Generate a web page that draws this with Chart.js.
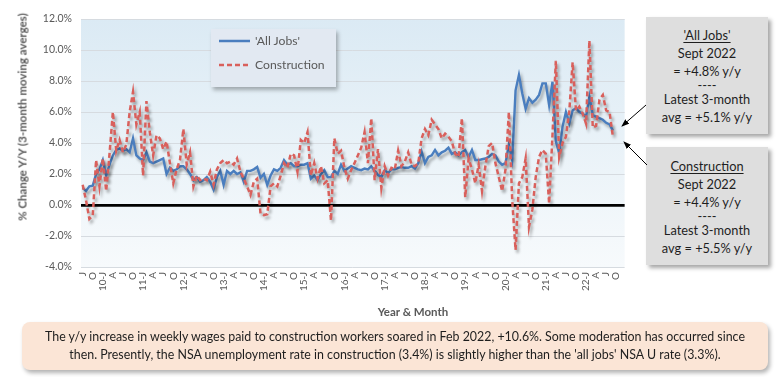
<!DOCTYPE html>
<html><head><meta charset="utf-8">
<script src="https://cdn.jsdelivr.net/npm/chart.js@4.4.0/dist/chart.umd.min.js"></script>
<style>
html,body{margin:0;padding:0;background:#fff;}
body{width:778px;height:377px;position:relative;overflow:hidden;font-family:Lato,'Liberation Sans',sans-serif;color:#595959;}
#wrap{position:absolute;left:0;top:0;width:640px;height:320px;}
.legend{position:absolute;left:211px;top:29px;width:125px;height:58px;background:#e2e9f2;box-shadow:2px 3px 4px rgba(0,0,0,.3);}
.legend span{position:absolute;left:44px;font-size:12.2px;line-height:16px;white-space:nowrap;color:#595959;}
.ann{position:absolute;left:646px;width:122px;background:#dedede;box-shadow:3px 3px 4px rgba(0,0,0,.35);text-align:center;color:#1e1e1e;font-size:12.8px;}
.ann div{line-height:18px;white-space:nowrap;}
.ann .sep{line-height:10px;}
.ann u{text-underline-offset:2px;}
.ytitle{position:absolute;left:22px;top:117px;transform:translate(-50%,-50%) rotate(-90deg);font-weight:bold;font-size:11.5px;white-space:nowrap;color:#595959;}
.xtitle{position:absolute;left:413px;top:311px;transform:translate(-50%,-50%);font-weight:bold;font-size:11.5px;white-space:nowrap;color:#595959;}
.note{position:absolute;left:22px;top:322px;width:746px;height:48px;background:#fbe5d6;border-radius:8px;box-shadow:2px 3px 4px rgba(0,0,0,.3);text-align:center;font-size:12.4px;line-height:18px;color:#1e1e1e;box-sizing:border-box;padding-top:6px;}
svg.arrows{position:absolute;left:0;top:0;pointer-events:none;}
</style></head>
<body>
<div id="wrap"><canvas id="c"></canvas></div>
<div class="ytitle">% Change Y/Y (3-month moving averges)</div>
<div class="xtitle">Year &amp; Month</div>
<div class="legend">
<svg width="125" height="58" style="position:absolute;left:0;top:0">
<line x1="8" y1="12" x2="39" y2="12" stroke="#4a7ebf" stroke-width="2.5"/>
<line x1="8" y1="36" x2="39" y2="36" stroke="#d9605c" stroke-width="2.5" stroke-dasharray="5 3"/>
</svg>
<span style="top:4px">'All Jobs'</span>
<span style="top:28px">Construction</span>
</div>
<div class="ann" style="top:17px;height:117px;padding-top:9px;box-sizing:border-box">
<div><u>'All Jobs'</u></div><div>Sept 2022</div><div>= +4.8% y/y</div><div class="sep">----</div><div>Latest 3-month</div><div>avg = +5.1% y/y</div>
</div>
<div class="ann" style="top:147px;height:118px;padding-top:10px;box-sizing:border-box">
<div><u>Construction</u></div><div>Sept 2022</div><div>= +4.4% y/y</div><div class="sep">----</div><div>Latest 3-month</div><div>avg = +5.5% y/y</div>
</div>
<div class="note">The y/y increase in weekly wages paid to construction workers soared in Feb 2022, +10.6%. Some moderation has occurred since<br>then. Presently, the NSA unemployment rate in construction (3.4%) is slightly higher than the 'all jobs' NSA U rate (3.3%).</div>
<svg class="arrows" width="778" height="377">
<defs><marker id="ah" markerWidth="8" markerHeight="6" refX="7" refY="3" orient="auto" markerUnits="userSpaceOnUse"><path d="M0,0 L8,3 L0,6 z" fill="#000"/></marker></defs>
<line x1="646" y1="105" x2="622" y2="126" stroke="#000" stroke-width="1" marker-end="url(#ah)"/>
<line x1="647" y1="165" x2="624" y2="142" stroke="#000" stroke-width="1" marker-end="url(#ah)"/>
</svg>
<script>
// Monthly categories Jul 2009 - Dec 2022 (tick label shown every 3rd month)
const xLabels = [
 'J','','','O','','',
 '10-J','','','A','','','J','','','O','','',
 '11-J','','','A','','','J','','','O','','',
 '12-J','','','A','','','J','','','O','','',
 '13-J','','','A','','','J','','','O','','',
 '14-J','','','A','','','J','','','O','','',
 '15-J','','','A','','','J','','','O','','',
 '16-J','','','A','','','J','','','O','','',
 '17-J','','','A','','','J','','','O','','',
 '18-J','','','A','','','J','','','O','','',
 '19-J','','','A','','','J','','','O','','',
 '20-J','','','A','','','J','','','O','','',
 '21-J','','','A','','','J','','','O','','',
 '22-J','','','A','','','J','','','O','',''
];
// % change y/y, 3-month moving averages ('All Jobs')
const allJobs = [
 1.1,0.9,1.2,1.25,2.0,2.3,
 2.9,1.9,2.6,3.2,3.55,3.65,3.5,3.6,3.4,4.3,3.2,3.0,
 2.9,3.4,2.8,2.7,2.8,2.9,3.0,2.0,2.4,2.2,2.3,2.5,
 2.5,2.3,2.0,1.6,1.8,1.5,1.6,1.8,1.5,1.0,1.8,2.2,
 1.3,2.2,2.0,2.2,2.0,2.1,1.5,2.2,2.2,2.3,2.45,1.75,
 2.0,1.3,1.9,2.3,2.2,2.4,2.9,2.6,2.7,2.5,2.5,2.6,
 2.6,2.7,1.7,1.9,1.6,2.0,2.25,1.8,1.8,2.2,2.0,2.6,
 2.2,2.35,2.5,2.4,2.3,2.25,2.35,2.3,2.5,2.2,1.95,1.8,
 2.25,2.05,2.3,2.3,2.4,2.45,2.4,2.4,2.5,2.35,2.7,3.45,
 2.7,3.1,3.2,3.55,3.2,3.4,3.5,3.7,3.3,3.4,3.2,3.4,
 3.55,3.1,3.55,2.9,2.9,2.95,3.0,3.1,3.3,3.2,2.8,2.6,
 2.7,3.9,2.9,7.4,8.4,7.2,6.2,6.9,6.6,6.8,7.1,7.85,
 7.85,6.45,7.95,4.1,3.35,5.05,6.0,5.25,6.1,6.25,6.0,5.9,
 5.7,7.0,5.8,5.7,5.6,5.5,5.3,5.2,4.8,null,null,null
];
// % change y/y, 3-month moving averages (Construction)
const construction = [
 1.3,0.3,-0.9,-0.7,2.9,1.2,
 3.0,0.9,3.3,6.0,3.5,4.2,3.4,3.9,6.0,7.3,5.2,6.0,
 1.9,6.7,4.7,3.2,4.5,4.3,3.6,4.1,2.7,1.4,2.3,2.9,
 4.9,2.6,3.4,1.2,1.9,1.6,1.7,1.6,2.15,1.3,2.3,2.7,
 2.9,2.7,2.8,2.6,3.0,2.15,1.7,1.2,0.65,1.5,1.7,-0.55,
 -0.65,-0.6,1.2,1.4,1.2,1.9,2.7,2.4,3.3,3.2,2.15,4.2,
 4.0,4.7,1.9,2.7,1.7,2.5,1.4,1.6,-1.0,4.3,3.3,3.5,
 2.4,1.7,2.25,2.7,3.2,3.7,4.7,2.7,5.6,1.6,3.6,1.1,
 2.5,1.9,2.4,2.3,3.5,2.5,2.8,3.4,2.6,2.5,2.7,4.3,
 4.9,4.5,5.5,5.2,4.9,4.3,4.6,4.4,4.1,3.3,3.1,5.6,
 0.5,3.0,2.3,1.4,2.6,0.9,2.5,3.8,4.0,2.7,1.8,0.9,
 2.3,6.0,0.3,-2.9,1.4,1.8,3.0,-1.4,-0.3,1.8,3.1,3.55,
 3.3,0.1,4.5,9.3,3.1,4.0,4.4,6.0,9.2,6.1,6.35,5.9,
 5.25,10.6,5.0,5.1,6.8,7.1,6.1,6.0,4.4,null,null,null
];
const yMin = -4, yMax = 12, yStep = 2;

const bgPlugin = {
  id: 'plotBg',
  beforeDraw(chart) {
    const {ctx, chartArea: a} = chart;
    const g = ctx.createLinearGradient(0, a.top, 0, a.bottom);
    g.addColorStop(0, '#dbeaf4');
    g.addColorStop(1, '#f7fafc');
    ctx.save();
    ctx.fillStyle = g;
    ctx.fillRect(a.left, a.top, a.right - a.left, a.bottom - a.top);
    ctx.restore();
  }
};
const shadowPlugin = {
  id: 'lineShadow',
  beforeDatasetsDraw(chart) {
    const c = chart.ctx;
    c.save();
    c.shadowColor = 'rgba(0,0,0,0.33)';
    c.shadowBlur = 3;
    c.shadowOffsetX = 2;
    c.shadowOffsetY = 3;
  },
  afterDatasetsDraw(chart) { chart.ctx.restore(); }
};

new Chart(document.getElementById('c'), {
  type: 'line',
  data: {
    labels: xLabels,
    datasets: [
      {label: "'All Jobs'", data: allJobs, borderColor: '#4a7ebf', borderWidth: 2.4, pointRadius: 0, tension: 0, fill: false, order: 1},
      {label: 'Construction', data: construction, borderColor: '#d9605c', borderWidth: 2.5, borderDash: [5, 3], pointRadius: 0, tension: 0, fill: false, order: 0}
    ]
  },
  options: {
    responsive: true, maintainAspectRatio: false, animation: false, devicePixelRatio: 1,
    layout: {padding: {top: 19, right: 13, bottom: 0, left: 0}},
    plugins: {legend: {display: false}, tooltip: {enabled: false}},
    scales: {
      x: {
        type: 'category', offset: true,
        grid: {display: false, drawTicks: false},
        border: {display: false},
        ticks: {autoSkip: false, maxRotation: 90, minRotation: 90, padding: 5, color: '#595959', font: {family: 'Lato', size: 10}},
        afterFit(s) { s.height = 53; }
      },
      y: {
        min: yMin, max: yMax,
        ticks: {stepSize: yStep, padding: 9, color: '#595959', font: {family: 'Lato', size: 10.5}, callback: v => v.toFixed(1) + '%'},
        grid: {drawTicks: false,
          color: c => (c.tick && c.tick.value === 0) ? '#000000' : '#d6dbe0',
          lineWidth: c => (c.tick && c.tick.value === 0) ? 2.75 : 1},
        border: {display: false},
        afterFit(s) { s.width = 81; }
      }
    }
  },
  plugins: [bgPlugin, shadowPlugin]
});
</script>
</body></html>
